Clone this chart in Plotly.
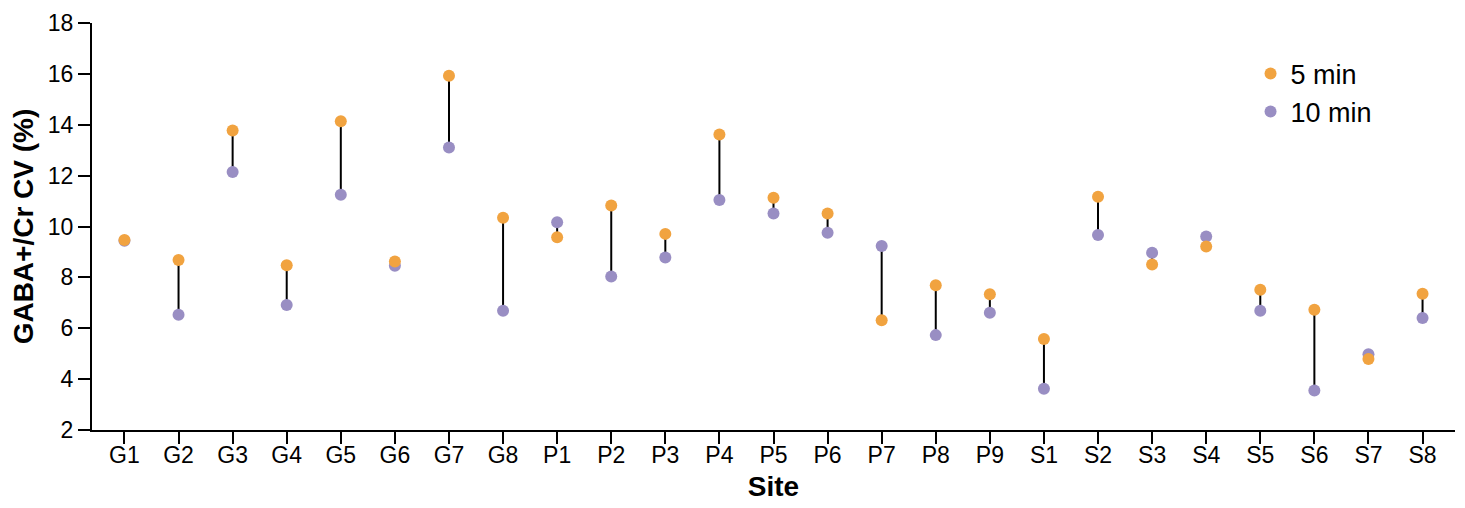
import plotly.graph_objects as go

sites = ["G1", "G2", "G3", "G4", "G5", "G6", "G7", "G8",
         "P1", "P2", "P3", "P4", "P5", "P6", "P7", "P8", "P9",
         "S1", "S2", "S3", "S4", "S5", "S6", "S7", "S8"]
cv_5min = [9.47, 8.68, 13.77, 8.48, 14.14, 8.62, 15.93, 10.34,
           9.58, 10.83, 9.71, 13.62, 11.13, 10.51, 6.31, 7.69, 7.34,
           5.58, 11.17, 8.51, 9.21, 7.51, 6.73, 4.79, 7.36]
cv_10min = [9.44, 6.53, 12.14, 6.91, 11.25, 8.46, 13.11, 6.69,
            10.17, 8.03, 8.78, 11.04, 10.51, 9.75, 9.23, 5.73, 6.61,
            3.62, 9.67, 8.97, 9.61, 6.69, 3.55, 4.98, 6.40]

ORANGE = "#f1a340"
PURPLE = "#998ec3"
FONT = "Liberation Sans, Arial, sans-serif"

# connector segments
lx, ly = [], []
for s, a, b in zip(sites, cv_5min, cv_10min):
    lx += [s, s, None]
    ly += [a, b, None]

fig = go.Figure()
fig.add_trace(go.Scatter(x=lx, y=ly, mode="lines", line=dict(color="black", width=2),
                         showlegend=False, hoverinfo="skip"))
fig.add_trace(go.Scatter(x=sites, y=cv_10min, mode="markers", name="10 min",
                         marker=dict(color=PURPLE, size=12), legendrank=2))
fig.add_trace(go.Scatter(x=sites, y=cv_5min, mode="markers", name="5 min",
                         marker=dict(color=ORANGE, size=12), legendrank=1))

fig.update_layout(
    width=1465, height=508,
    margin=dict(l=92, r=10, t=20, b=78),
    plot_bgcolor="white", paper_bgcolor="white",
    font=dict(family=FONT, size=23, color="black"),
    legend=dict(x=0.850, y=0.935, xanchor="left", yanchor="top",
                font=dict(size=27), bgcolor="rgba(0,0,0,0)",
                tracegroupgap=0, itemsizing="constant"),
    xaxis=dict(
        type="category", categoryorder="array", categoryarray=sites,
        range=[-0.6, 24.6],
        showline=True, linecolor="black", linewidth=2,
        ticks="outside", ticklen=12, tickwidth=2, tickcolor="black",
        ticklabelstandoff=-9,
        showgrid=False, zeroline=False,
        title=dict(text="<b>Site</b>", font=dict(size=28), standoff=10),
    ),
    yaxis=dict(
        range=[2, 18], tickvals=[2, 4, 6, 8, 10, 12, 14, 16, 18],
        showline=True, linecolor="black", linewidth=2,
        ticks="outside", ticklen=12, tickwidth=2, tickcolor="black",
        showgrid=False, zeroline=False,
        title=dict(text="<b>GABA+/Cr CV (%)</b>", font=dict(size=28), standoff=6),
    ),
)

# remove the default 8px page margin so the figure sits at the window origin
fig.write_html("out.html", config={"displayModeBar": False},
               post_script="document.body.style.margin='0';")
